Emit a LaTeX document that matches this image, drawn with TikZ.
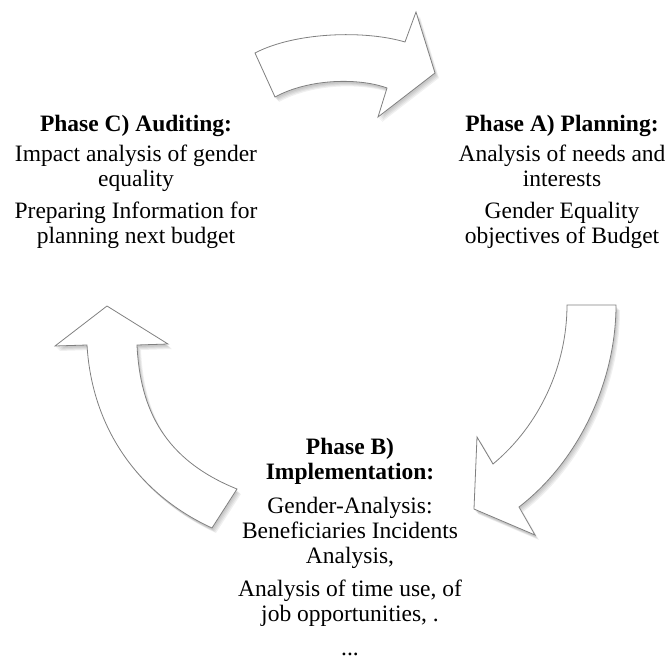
\documentclass[tikz,border=0pt]{standalone}
\usepackage{fontspec}
\setmainfont{Liberation Serif}
\begin{document}
% curved block arrows of the budget cycle, coordinates in pixels (y downwards)
\newcommand\cycArrowTop{(255,53) .. controls (295,32) and (365,30) .. (405,42) -- (416,12) -- (435,73) -- (378,117) -- (387,88) .. controls (360,78) and (310,78) .. (275,97) -- cycle}
\newcommand\cycArrowRight{(567,305) -- (616,305) .. controls (616,380) and (580,460) .. (519,507) -- (535,535) -- (474,509) -- (477,437) -- (493,464) .. controls (540,425) and (567,365) .. (567,305) -- cycle}
\newcommand\cycArrowLeft{(107,306) -- (168,344) -- (137,345) .. controls (140,410) and (165,460) .. (237,489) -- (212,528) .. controls (140,495) and (92,430) .. (87,345) -- (55,346) -- cycle}
\begin{tikzpicture}[x=1pt,y=-1pt,
  blockarrow/.style={fill=white,draw=black!50,line width=0.8pt,line join=miter},
  phasetext/.style={align=center,font=\fontsize{23.5}{25}\selectfont,inner sep=0pt}]
\useasboundingbox (0,0) rectangle (670,662);
% soft shadows
\foreach \p in {\cycArrowTop,\cycArrowRight,\cycArrowLeft}{
  \foreach \d in {1,2,3,4}{
    \fill[black,opacity=0.06,shift={(\d,\d+1)}] \p;
  }
}
\path[blockarrow] \cycArrowTop;
\path[blockarrow] \cycArrowRight;
\path[blockarrow] \cycArrowLeft;
% phase descriptions
\node[phasetext] (phaseA) at (562,182) {\textbf{Phase A) Planning:}\\[5pt]
  Analysis of needs and\\interests\\[7pt]Gender Equality\\objectives of Budget};
\node[phasetext] (phaseC) at (136,182) {\textbf{Phase C) Auditing:}\\[5pt]
  Impact analysis of gender\\equality\\[7pt]Preparing Information for\\planning next budget};
\node[phasetext] (phaseB) at (350,547) {\textbf{Phase B)}\\\textbf{Implementation:}\\[9pt]
  Gender-Analysis:\\Beneficiaries Incidents\\Analysis,\\[8pt]Analysis of time use, of\\job opportunities, .\\[9pt]...};
\end{tikzpicture}
\end{document}
